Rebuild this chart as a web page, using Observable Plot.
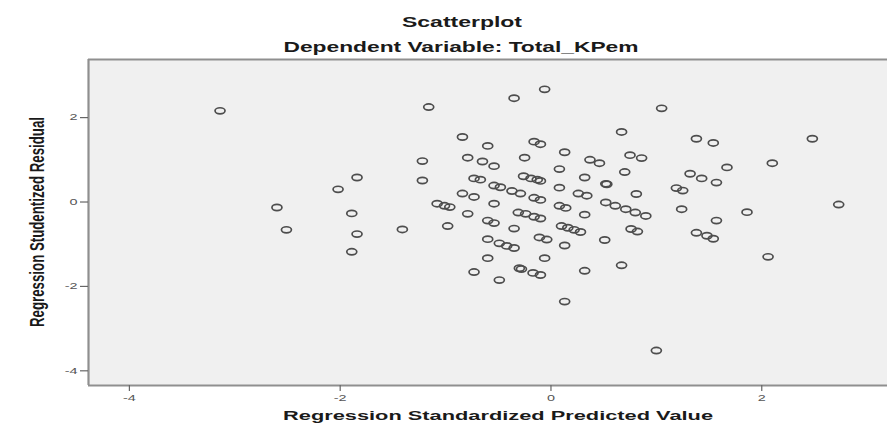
<!DOCTYPE html>
<html>
<head>
<meta charset="utf-8">
<script src="https://cdn.jsdelivr.net/npm/d3@7"></script>
<script src="https://cdn.jsdelivr.net/npm/@observablehq/plot@0.6"></script>
<style>
  html, body { margin: 0; padding: 0; background: #ffffff; }
  #chart { width: 887px; height: 424px; overflow: hidden; }
</style>
</head>
<body>
<div id="chart"></div>
<script>
// ---- data ----
const title = "Scatterplot";
const subtitle = "Dependent Variable: Total_KPem";
const xLabel = "Regression Standardized Predicted Value";
const yLabel = "Regression Studentized Residual";
const xTicks = [-4, -2, 0, 2];
const yTicks = [-4, -2, 0, 2];

const predicted = [
  -3.14, -1.84, -2.02, -2.60, -1.89, -2.51, -1.84, -1.89, -1.41,
  -1.16, -0.35, -0.06, -0.84, -0.60, -0.16, -0.10, 0.13, -1.22, -0.79,
  -0.65, -0.54, -0.25, 0.08, 0.37, 0.46, -1.22, -0.73, -0.67, -0.26,
  -0.19, -0.13, -0.10, 0.32, 0.70, -0.54, -0.48, 0.08, 0.52, 0.53,
  -0.84, -0.73, -0.37, -0.29, -0.16, -0.10, -1.08, -1.01, -0.96, -0.54,
  0.08, 0.14, 0.26, 0.34, 0.52, 0.61, -0.79, -0.31, -0.24, -0.16,
  -0.10, 0.32, -0.98, -0.60, -0.54, -0.35, 0.10, 0.16, 0.22, 0.28,
  0.51, -0.60, -0.49, -0.42, -0.35, -0.11, -0.04, 0.13, -0.60, -0.06,
  0.67, -0.73, -0.30, -0.28, -0.17, -0.10, 0.32, -0.49, 0.13,
  1.05, 0.67, 1.38, 1.54, 2.48, 0.75, 0.86, 1.32, 1.43, 1.67, 2.10,
  1.57, 1.19, 1.25, 0.81, 0.71, 0.80, 0.90, 1.24, 1.86, 2.73, 1.57,
  0.76, 0.82, 1.38, 1.48, 1.54, 2.06, 1.00
];
const residual = [
  2.16, 0.58, 0.30, -0.13, -0.27, -0.66, -0.76, -1.18, -0.65,
  2.25, 2.46, 2.67, 1.54, 1.33, 1.43, 1.37, 1.18, 0.97, 1.05,
  0.96, 0.85, 1.05, 0.78, 1.00, 0.92, 0.51, 0.56, 0.53, 0.61,
  0.56, 0.53, 0.50, 0.58, 0.71, 0.39, 0.35, 0.34, 0.43, 0.42,
  0.20, 0.12, 0.26, 0.20, 0.10, 0.05, -0.04, -0.09, -0.12, -0.04,
  -0.09, -0.14, 0.20, 0.15, -0.01, -0.09, -0.28, -0.25, -0.28, -0.35,
  -0.39, -0.30, -0.57, -0.44, -0.50, -0.63, -0.57, -0.61, -0.66, -0.71,
  -0.90, -0.88, -0.98, -1.04, -1.09, -0.84, -0.89, -1.03, -1.33, -1.33,
  -1.50, -1.66, -1.57, -1.59, -1.68, -1.73, -1.63, -1.85, -2.36,
  2.22, 1.66, 1.50, 1.40, 1.50, 1.11, 1.04, 0.67, 0.56, 0.82, 0.92,
  0.46, 0.33, 0.27, 0.19, -0.17, -0.25, -0.33, -0.17, -0.24, -0.06, -0.44,
  -0.64, -0.70, -0.73, -0.80, -0.87, -1.30, -3.52
];

const points = predicted.map((x, i) => ({x, y: residual[i]}));

// ---- layout ----
const W = 887, H = 424;
const mL = 88, mR = 0, mT = 59, mB = 39;
const xDomain = [-4.388, 3.193];
const yDomain = [-4.348, 3.377];
const STRETCH = 1.6; // the reference is stretched horizontally

// ellipse symbol (the reference circles appear as flattened rings)
const ring = {
  draw(context, size) {
    const rx = 5.0, ry = 3.1, k = 0.5523;
    context.moveTo(rx, 0);
    context.bezierCurveTo(rx, k * ry, k * rx, ry, 0, ry);
    context.bezierCurveTo(-k * rx, ry, -rx, k * ry, -rx, 0);
    context.bezierCurveTo(-rx, -k * ry, -k * rx, -ry, 0, -ry);
    context.bezierCurveTo(k * rx, -ry, rx, -k * ry, rx, 0);
    context.closePath();
  }
};

const svg = Plot.plot({
  width: W,
  height: H,
  marginLeft: mL,
  marginRight: mR,
  marginTop: mT,
  marginBottom: mB,
  style: {background: "#ffffff", fontFamily: "'Liberation Sans', Arial, sans-serif", color: "#555"},
  x: {domain: xDomain},
  y: {domain: yDomain},
  marks: [
    Plot.frame({fill: "#f0f0f0", stroke: "none"}),
    Plot.dot(points, {x: "x", y: "y", symbol: ring, r: 5, fill: "none", stroke: "#4d4d4d", strokeWidth: 1.7}),
    Plot.ruleY([yDomain[0], yDomain[1]], {stroke: "#8f8f8f", strokeWidth: 2.2}),
    Plot.ruleX([xDomain[0]], {stroke: "#8f8f8f", strokeWidth: 2.2}),
    Plot.axisX(xTicks, {
      ticks: xTicks, tickSize: 6, tickPadding: 3, fontSize: 9,
      stroke: "#666", strokeWidth: 1.2, fill: "#555", label: null, tickFormat: d => String(d)
    }),
    Plot.axisY(yTicks, {
      ticks: yTicks, tickSize: 8, tickPadding: 3, fontSize: 9,
      stroke: "#666", strokeWidth: 1.2, fill: "#555", label: null, tickFormat: d => String(d)
    })
  ]
});

// stretch tick labels horizontally like the reference
d3.select(svg).selectAll('g[aria-label$="tick label"] text').each(function () {
  const t = d3.select(this);
  const tr = t.attr("transform");
  if (tr) {
    t.attr("transform", tr + ` scale(${STRETCH},1)`);
  } else {
    const x = +t.attr("x") || 0, y = +t.attr("y") || 0;
    t.attr("x", null).attr("y", null).attr("transform", `translate(${x},${y}) scale(${STRETCH},1)`);
  }
});

const s = d3.select(svg);
function addText(str, x, y, size, len, rotate) {
  s.append("text")
    .attr("transform", `translate(${x},${y}) scale(${STRETCH},1)` + (rotate ? ` rotate(${rotate})` : ""))
    .attr("text-anchor", "middle")
    .attr("font-family", "'Liberation Sans', Arial, sans-serif")
    .attr("font-weight", "bold")
    .attr("font-size", size)
    .attr("fill", "#1a1a1a")
    .attr("textLength", len)
    .attr("lengthAdjust", "spacingAndGlyphs")
    .text(str);
}
addText(title, 462, 27, 14, 120 / STRETCH);
addText(subtitle, 461, 52, 14, 355 / STRETCH);
addText(xLabel, 498, 420, 13.5, 430 / STRETCH);
addText(yLabel, 44, 222, 13, 210, -90);

document.getElementById("chart").appendChild(svg);
</script>
</body>
</html>
